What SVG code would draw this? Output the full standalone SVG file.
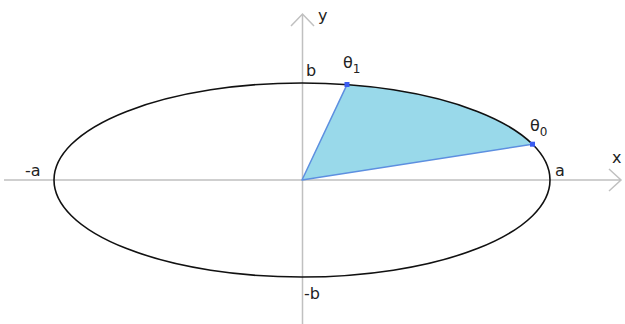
<svg xmlns="http://www.w3.org/2000/svg" width="625" height="324" viewBox="0 0 625 324">
<style>
.ax{stroke:#c0c0c0;stroke-width:1.5;fill:none}
.t{font-family:"DejaVu Sans",Verdana,sans-serif;font-size:16px;fill:#222}
.s{font-family:"DejaVu Sans",Verdana,sans-serif;font-size:12px;fill:#222}
</style>
<rect width="625" height="324" fill="#fff"/>
<g id="connectors">
<path class="ax" d="M4 180 H621 M609 169 L621 180 L609 191"/>
<path class="ax" d="M302.5 324 V14 M291 26 L302.5 14 L314 26"/>
</g>
<g id="sector">
<path d="M302 180 L532.4 144.2 A248 97 0 0 0 347 84.6 Z" fill="#99d9ea"/>
<path d="M532.4 144.2 L302 180 L347 84.6" fill="none" stroke="#5d8fe0" stroke-width="1.5" stroke-linejoin="round"/>
</g>
<g id="ellipse">
<ellipse cx="302" cy="180" rx="248" ry="97" fill="none" stroke="#111" stroke-width="1.6"/>
</g>
<g id="points">
<rect x="344.5" y="82" width="5" height="5" fill="#3a5cf0"/>
<rect x="530" y="141.7" width="5" height="5" fill="#3a5cf0"/>
</g>
<g id="labels">
<text class="t" x="318" y="21">y</text>
<text class="t" x="612" y="163">x</text>
<text class="t" x="306" y="76">b</text>
<text class="t" x="343" y="68">θ<tspan class="s" dy="5">1</tspan></text>
<text class="t" x="530" y="131">θ<tspan class="s" dy="5">0</tspan></text>
<text class="t" x="555" y="176">a</text>
<text class="t" x="25" y="176">-a</text>
<text class="t" x="304" y="299">-b</text>
</g>
</svg>
